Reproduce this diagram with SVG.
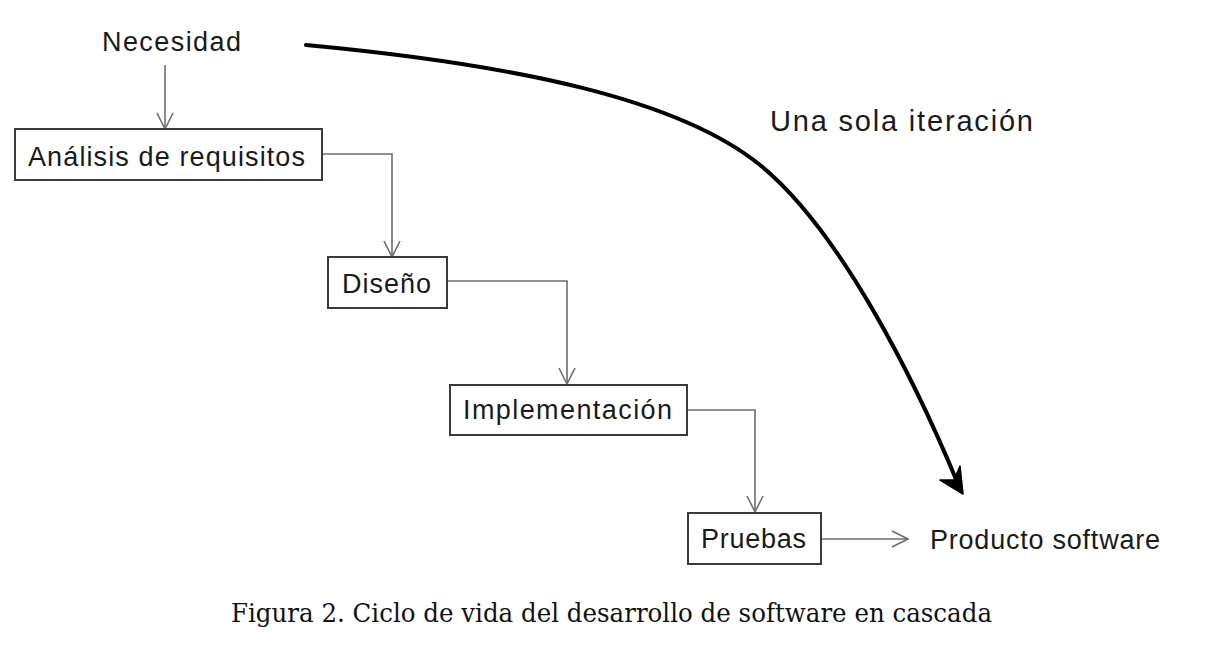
<svg xmlns="http://www.w3.org/2000/svg" width="1222" height="652" viewBox="0 0 1222 652">
<defs>
<style>
.lbl{font-family:"Liberation Sans",Arial,sans-serif;font-size:27px;fill:#1a1a1a;}
.box{fill:#fff;stroke:#3a3a3a;stroke-width:2;}
.con{fill:none;stroke:#6e6e6e;stroke-width:1.6;}
.cap{font-family:"DejaVu Serif","Liberation Serif",serif;font-size:26px;fill:#111;}
</style>
<marker id="open" viewBox="0 0 20 20" refX="18" refY="10" markerWidth="20" markerHeight="20" markerUnits="userSpaceOnUse" orient="auto">
<path d="M2,2 L18,10 L2,18" fill="none" stroke="#6e6e6e" stroke-width="1.6"/>
</marker>
</defs>
<rect width="1222" height="652" fill="#fff"/>
<g id="connectors">
<path class="con" d="M165,65 V129" marker-end="url(#open)"/>
<path class="con" d="M322,154 H392 V257" marker-end="url(#open)"/>
<path class="con" d="M447,281 H567 V384" marker-end="url(#open)"/>
<path class="con" d="M687,410 H755 V512" marker-end="url(#open)"/>
<path class="con" d="M821,539 H908" marker-end="url(#open)"/>
<path d="M306,45 C520,65 680,100 760,165 C840,230 915,380 958,484" fill="none" stroke="#000" stroke-width="4" stroke-linecap="round"/>
<polygon points="963,494 940,480 954,480 960,466" fill="#000" stroke="#000" stroke-width="1.5" stroke-linejoin="round"/>
</g>
<g id="necesidad">
<text class="lbl" x="102" y="51" textLength="139" lengthAdjust="spacing">Necesidad</text>
</g>
<g id="analisis">
<rect class="box" x="15" y="129" width="307" height="51"/>
<text class="lbl" x="28" y="166" textLength="277" lengthAdjust="spacing">Análisis de requisitos</text>
</g>
<g id="diseno">
<rect class="box" x="328" y="257" width="119" height="51"/>
<text class="lbl" x="342" y="293" textLength="89" lengthAdjust="spacing">Diseño</text>
</g>
<g id="implementacion">
<rect class="box" x="450" y="385" width="237" height="50"/>
<text class="lbl" x="463" y="419" textLength="209" lengthAdjust="spacing">Implementación</text>
</g>
<g id="pruebas">
<rect class="box" x="688" y="513" width="133" height="51"/>
<text class="lbl" x="701" y="548" textLength="105" lengthAdjust="spacing">Pruebas</text>
</g>
<g id="producto">
<text class="lbl" x="930" y="549" textLength="230" lengthAdjust="spacing">Producto software</text>
</g>
<g id="iteracion">
<text class="lbl" x="770" y="131" style="font-size:29px" textLength="263" lengthAdjust="spacing">Una sola iteración</text>
</g>
<g id="caption">
<text class="cap" x="231" y="622" textLength="761" lengthAdjust="spacingAndGlyphs">Figura 2. Ciclo de vida del desarrollo de software en cascada</text>
</g>
</svg>
